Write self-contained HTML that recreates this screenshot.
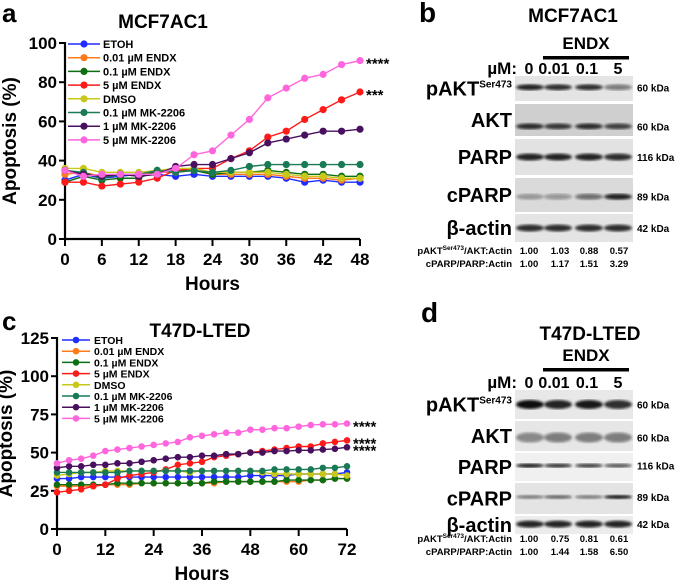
<!DOCTYPE html>
<html><head><meta charset="utf-8"><style>
html,body{margin:0;padding:0;background:#fff}
svg{display:block;font-family:"Liberation Sans",Arial,sans-serif}
</style></head><body>
<svg id="fig" width="675" height="582" viewBox="0 0 675 582">
<defs>
<filter id="blur1"><feGaussianBlur stdDeviation="1.2"/></filter>
</defs>
<g id="chartA"></g>
<g id="chartC"></g>
<g id="blotB"></g>
<g id="blotD"></g>
</svg>
<script>
const seriesNames = ["ETOH","0.01 µM ENDX","0.1 µM ENDX","5 µM ENDX","DMSO","0.1 µM MK-2206","1 µM MK-2206","5 µM MK-2206"];
const seriesColors = ["#1f2cff","#ff7a1a","#0e6e12","#ff1a1a","#c8c81a","#1a7a55","#4a1060","#ff66dd"];
const hoursA = [0,3,6,9,12,15,18,21,24,27,30,33,36,39,42,45,48];
const aEtoh   = [30,33,31,32,33,33,32,33,32,32,32,32,31,29,30,29,29];
const aEndx001= [33,34,32,33,33,34,34,35,33,33,33,33,32,31,31,30,31];
const aEndx01 = [29,32,30,31,31,35,35,35,33,34,34,35,34,33,33,32,32];
const aEndx5  = [29,29,27,28,29,31,35,36,36,41,45,52,55,61,66,71,75];
const aDmso   = [36,36,34,34,34,35,36,36,34,34,34,34,33,32,32,31,31];
const aMk01   = [35,34,31,33,33,35,34,35,34,35,37,38,38,38,38,38,38];
const aMk1    = [35,33,32,33,32,33,37,38,38,41,44,49,51,53,55,55,56];
const aMk5    = [35,32,33,33,33,33,36,43,45,53,61,72,77,82,84,89,91];
const xTicksA = [0,6,12,18,24,30,36,42,48];
const yTicksA = [0,20,40,60,80,100];
const hoursC = [0,3,6,9,12,15,18,21,24,27,30,33,36,39,42,45,48,51,54,57,60,63,66,69,72];
const cEtoh   = [33,33,34,34,34,34,34,34,34,34,34,34,34,34,34,34,35,35,35,35,36,36,36,36,37];
const cEndx001= [28,28,28,28,29,29,29,30,30,30,30,30,30,30,31,31,31,31,31,31,31,32,32,33,33];
const cEndx01 = [29,29,29,29,29,30,30,30,30,30,30,30,30,31,31,31,31,31,31,32,32,32,32,33,33];
const cEndx5  = [24,25,26,28,29,33,35,36,37,39,42,43,44,47,48,49,50,51,52,53,54,54,56,57,58];
const cDmso   = [35,36,37,37,38,38,38,38,38,38,38,37,38,38,38,38,38,37,36,36,36,36,36,36,35];
const cMk01   = [37,37,37,37,37,37,38,38,38,38,38,38,38,38,38,38,38,38,39,39,39,39,40,40,41];
const cMk1    = [40,41,41,42,42,43,43,44,45,46,47,47,48,48,49,49,50,50,51,51,51.5,51.5,52,52.5,53.5];
const cMk5    = [43,45,46,48,51,52,53,54,55,56,57,60,61,62,63,63,65,65,66,66,67,68,68.5,68.5,69];
const xTicksC = [0,12,24,36,48,60,72];
const yTicksC = [0,25,50,75,100,125];
const ratiosB1 = ["1.00","1.03","0.88","0.57"];
const ratiosB2 = ["1.00","1.17","1.51","3.29"];
const ratiosD1 = ["1.00","0.75","0.81","0.61"];
const ratiosD2 = ["1.00","1.44","1.58","6.50"];
const lanes = ["0","0.01","0.1","5"];

const NS="http://www.w3.org/2000/svg";
function mk(tag,attrs,parent,text){const e=document.createElementNS(NS,tag);for(const k in attrs)e.setAttribute(k,attrs[k]);if(text!==undefined)e.textContent=text;parent.appendChild(e);return e;}

function drawChart(g,cfg){
  const sx=v=>cfg.x0+(v-cfg.xmin)/(cfg.xmax-cfg.xmin)*(cfg.x1-cfg.x0);
  const sy=v=>cfg.y0-(v-cfg.ymin)/(cfg.ymax-cfg.ymin)*(cfg.y0-cfg.y1);
  let t=mk('text',{x:cfg.lblX,y:cfg.lblY,'font-size':26,'font-weight':'bold'},g,cfg.letter);
  
  
  t=mk('text',{x:cfg.titleX,y:cfg.titleY,'font-size':19,'font-weight':'bold','text-anchor':'middle'},g,cfg.title);
  
  
  const ax=mk('g',{},g);
  
  
  mk('line',{x1:cfg.x0,y1:cfg.y1-1,x2:cfg.x0,y2:cfg.y0,stroke:'#000','stroke-width':2.2},ax);
  mk('line',{x1:cfg.x0-1,y1:cfg.y0,x2:cfg.x1,y2:cfg.y0,stroke:'#000','stroke-width':2.2},ax);
  cfg.yTicks.forEach(v=>{
    mk('line',{x1:cfg.x0-6,y1:sy(v),x2:cfg.x0,y2:sy(v),stroke:'#000','stroke-width':2},ax);
    const l=mk('text',{x:cfg.x0-8,y:sy(v)+6,'font-size':17,'font-weight':'bold','text-anchor':'end'},ax,v);
    
    
  });
  cfg.xTicks.forEach(v=>{
    mk('line',{x1:sx(v),y1:cfg.y0,x2:sx(v),y2:cfg.y0+7,stroke:'#000','stroke-width':2},ax);
    const l=mk('text',{x:sx(v),y:cfg.y0+26,'font-size':17,'font-weight':'bold','text-anchor':'middle'},ax,v);
    
    
  });
  t=mk('text',{x:(cfg.x0+cfg.x1)/2,y:cfg.xtY,'font-size':19,'font-weight':'bold','text-anchor':'middle'},g,'Hours');
  
  
  t=mk('text',{x:0,y:0,'font-size':19,'font-weight':'bold','text-anchor':'middle',transform:`translate(${cfg.ytX},${(cfg.y0+cfg.y1)/2}) rotate(-90)`},g,'Apoptosis (%)');
  
  
  cfg.series.forEach((vals,i)=>{
    const sg=mk('g',{},g);
    
    
    const pts=vals.map((v,j)=>sx(cfg.hours[j])+','+sy(v)).join(' ');
    mk('polyline',{points:pts,fill:'none',stroke:seriesColors[i],'stroke-width':1.4},sg);
    vals.forEach((v,j)=>{
      const c=mk('circle',{cx:sx(cfg.hours[j]),cy:sy(v),r:cfg.r,fill:seriesColors[i]},sg);
      
      
    });
    const lg=mk('g',{},g);
    
    
    const ly=cfg.legY+i*cfg.legStep;
    mk('line',{x1:cfg.legX,y1:ly,x2:cfg.legX+cfg.legLen,y2:ly,stroke:seriesColors[i],'stroke-width':1.5},lg);
    mk('circle',{cx:cfg.legX+cfg.legLen/2,cy:ly,r:cfg.r,fill:seriesColors[i]},lg);
    mk('text',{x:cfg.legX+cfg.legTx,y:ly+4,'font-size':cfg.legFs,'font-weight':'bold'},lg,seriesNames[i]);
  });
  cfg.stars.forEach(s=>{
    const st=mk('text',{x:sx(cfg.xmax)+6,y:sy(s[0])+8,'font-size':15,'font-weight':'bold'},g,s[1]);
    
    
  });
}

drawChart(document.getElementById('chartA'),{letter:'a',lblX:2,lblY:22,title:'MCF7AC1',titleX:163,titleY:28,
  x0:65,x1:360,xmin:0,xmax:48,y0:239,y1:43,ymin:0,ymax:100,xTicks:xTicksA,yTicks:yTicksA,hours:hoursA,
  series:[aEtoh,aEndx001,aEndx01,aEndx5,aDmso,aMk01,aMk1,aMk5],r:3.6,
  legX:68,legY:44,legStep:13.7,legLen:32,legTx:35,legFs:11,xtY:290,ytX:16,
  stars:[[91,'****'],[75,'***']]});
drawChart(document.getElementById('chartC'),{letter:'c',lblX:2,lblY:330,title:'T47D-LTED',titleX:200,titleY:337,
  x0:57,x1:347,xmin:0,xmax:72,y0:529,y1:338,ymin:0,ymax:125,xTicks:xTicksC,yTicks:yTicksC,hours:hoursC,
  series:[cEtoh,cEndx001,cEndx01,cEndx5,cDmso,cMk01,cMk1,cMk5],r:3.3,
  legX:62,legY:340,legStep:11.2,legLen:28,legTx:32,legFs:10.5,xtY:580,ytX:12,
  stars:[[69,'****'],[58,'****'],[53.5,'****']]});

function drawBlot(g,cfg){
  let t=mk('text',{x:cfg.lbl[0],y:cfg.lbl[1],'font-size':28,'font-weight':'bold'},g,cfg.letter);
  
  
  t=mk('text',{x:cfg.titleX,y:cfg.titleY,'font-size':19,'font-weight':'bold','text-anchor':'middle'},g,cfg.title);
  
  
  t=mk('text',{x:586,y:cfg.endxY,'font-size':17,'font-weight':'bold','text-anchor':'middle'},g,'ENDX');
  
  
  mk('rect',{x:543,y:cfg.endxY+7,width:86,height:3.5,fill:'#000'},g);
  t=mk('text',{x:517,y:cfg.umY,'font-size':17,'font-weight':'bold','text-anchor':'end'},g,'µM:');
  
  
  const laneX=[530,558,589,618];
  const txtX=[529,554,587,618];
  lanes.forEach((l,i)=>{const e=mk('text',{x:txtX[i],y:cfg.umY,'font-size':16,'font-weight':'bold','text-anchor':'middle'},g,l);
    
    });
  cfg.rows.forEach(r=>{
    const rg=mk('g',{},g);
    
    
    mk('rect',{x:515,y:r.y,width:118,height:r.h,fill:r.bg},rg);
    const by=r.y+r.h*r.by;
    r.int.forEach((a,i)=>{ if(a>0) mk('ellipse',{cx:laneX[i],cy:by,rx:14,ry:r.bh,fill:'#111','fill-opacity':a,filter:'url(#blur1)'},rg);});
    const lab=mk('text',{x:512,y:r.y+r.h/2+7,'font-size':r.fs,'font-weight':'bold','text-anchor':'end'},rg,r.name);
    if(r.sup){mk('tspan',{'font-size':10,dy:-8},lab,'Ser473');}
    mk('text',{x:637,y:by+4,'font-size':10,'font-weight':'bold'},rg,r.kda);
  });
  [[cfg.r1,'AKT:Actin',cfg.ratY],[cfg.r2,'cPARP/PARP:Actin',cfg.ratY+13]].forEach((rr,k)=>{
    const tg=mk('text',{x:512,y:rr[2],'font-size':9.5,'font-weight':'bold','text-anchor':'end'},g);
    
    
    if(k===0){mk('tspan',{},tg,'pAKT');mk('tspan',{'font-size':6.5,dy:-4},tg,'Ser473');mk('tspan',{dy:4},tg,'/AKT:Actin');}
    else tg.textContent=rr[1];
    rr[0].forEach((v,i)=>{const e=mk('text',{x:[529,560,589,619][i],y:rr[2],'font-size':9.5,'font-weight':'bold','text-anchor':'middle'},g,v);
      
      });
  });
}
drawBlot(document.getElementById('blotB'),{letter:'b',lbl:[419,22],title:'MCF7AC1',titleX:573,titleY:22,endxY:49,umY:74,
  r1:ratiosB1,r2:ratiosB2,ratY:254,
  rows:[
   {id:'pakt',name:'pAKT',sup:true,y:76,h:25,bg:'#e4e4e4',by:0.45,bh:3,int:[0.9,0.85,0.85,0.5],kda:'60 kDa',fs:20},
   {id:'akt',name:'AKT',y:104,h:32,bg:'#cfcfcf',by:0.7,bh:3,int:[0.85,0.8,0.85,0.75],kda:'60 kDa',fs:20},
   {id:'parp',name:'PARP',y:139,h:36,bg:'#e2e2e2',by:0.5,bh:3.5,int:[0.9,0.9,0.9,0.85],kda:'116 kDa',fs:20},
   {id:'cparp',name:'cPARP',y:178,h:34,bg:'#dadada',by:0.55,bh:3,int:[0.3,0.35,0.55,0.9],kda:'89 kDa',fs:20},
   {id:'actin',name:'β-actin',y:214,h:28,bg:'#e4e4e4',by:0.5,bh:3.5,int:[0.85,0.85,0.85,0.85],kda:'42 kDa',fs:20}]});
drawBlot(document.getElementById('blotD'),{letter:'d',lbl:[421,322],title:'T47D-LTED',titleX:590,titleY:340,endxY:361,umY:388,
  r1:ratiosD1,r2:ratiosD2,ratY:542,
  rows:[
   {id:'pakt',name:'pAKT',sup:true,y:390,h:29,bg:'#e8e8e8',by:0.5,bh:4.5,int:[1,0.9,0.95,0.85],kda:'60 kDa',fs:20},
   {id:'akt',name:'AKT',y:421,h:30,bg:'#e6e6e6',by:0.55,bh:5,int:[0.45,0.5,0.5,0.5],kda:'60 kDa',fs:20},
   {id:'parp',name:'PARP',y:453,h:28,bg:'#f0f0f0',by:0.45,bh:2,int:[0.95,0.85,0.8,0.7],kda:'116 kDa',fs:20},
   {id:'cparp',name:'cPARP',y:483,h:31,bg:'#e4e4e4',by:0.45,bh:2,int:[0.5,0.6,0.5,0.95],kda:'89 kDa',fs:20},
   {id:'actin',name:'β-actin',y:516,h:18,bg:'#ececec',by:0.45,bh:3.5,int:[0.9,0.9,0.9,0.9],kda:'42 kDa',fs:20}]});
</script>
</body></html>
